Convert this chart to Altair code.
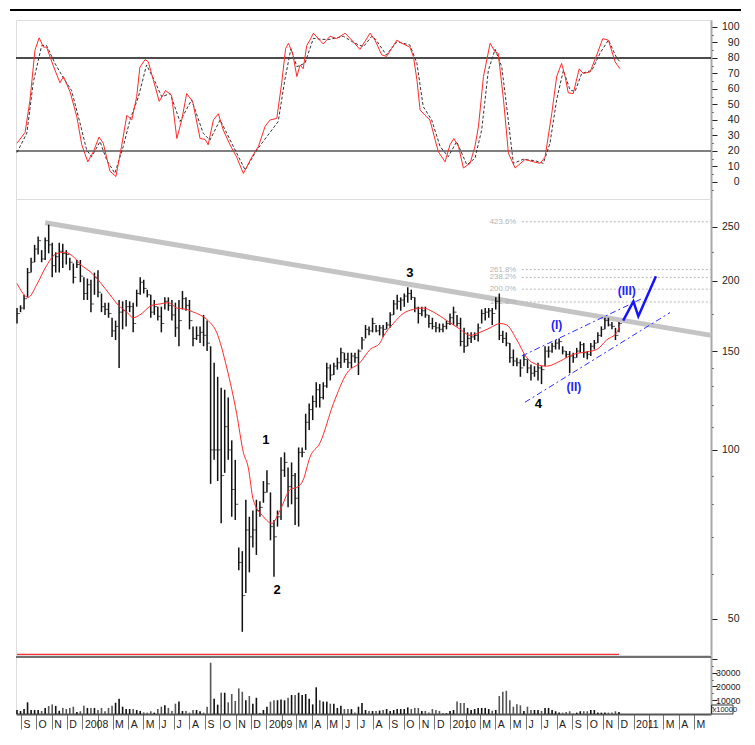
import altair as alt
import numpy as np
import pandas as pd

# ---------------- data (weekly bars, first bar dated 2007-08-24) ----------------
START = "2007-08-24"
X_START = alt.DateTime(year=2007, month=8, date=22)
X_END = alt.DateTime(year=2011, month=6, date=4)

HIGH = [179,181,189,211,220,232,240,227,239,252,
        234,225,234,233,227,220,215,218,218,203,
        202,201,207,209,190,183,183,172,170,185,
        184,185,184,183,193,203,201,193,189,185,
        180,180,187,187,185,183,185,192,187,185,
        166,166,166,174,170,153,143,135,129,128,
        124,104,96,67,66,81.5,76,78,81.5,81,
        88,92,84,75,78,97,99,93,95,91,
        101,101,116,121,125,132,131,132,143,142,
        143,146,152,149,149,149,149,151,159,167,
        166,172,167,167,167,169,176,185,189,187,
        190,195,193,187,180,180,180,174,172,169,
        168,168,170,175,180,174,172,165,162,162,
        162,168,178,179,179,179,187,190,163,162,
        155,151,146,145,148,145,142,141,143,141,
        153,153,155,157,158,153,150,150,149,152,
        156,155,150,155,157,162,166,172,172,169,
        165,169]
LOW = [168,176,178,187,207,216,223,216,218,224,
       203,207,207,211,214,209,198,211,199,185,
       185,176,189,187,176,174,172,159,157,140,
       164,166,176,162,180,189,190,187,172,174,
       170,162,178,177,170,159,153,178,177,164,
       153,157,155,153,150,87,96,88,74,91,
       96,76,75,61,47.4,55.6,60.5,67,65,76,
       80.5,84,69,59.4,73,75,89.5,79,80,73.5,
       73,97,100,108.5,113,119,119,123,129,133,
       136,139,140,143,140,140,143,136,151,158,
       160,162,162,160,159,164,165,174,178,177,
       180,183,185,176,168,173,172,165,164,162,
       162,162,164,167,167,166,153,149,153,155,
       157,156,168,170,172,167,178,157,155,153,
       143,141,141,135,141,137,133,135,133,131,
       141,146,149,151,151,148,146,137,143,146,
       149,146,145,147,151,155,159,164,166,164,
       157,162]
CLOSE = [175,179,186,207,216,228,236,219,236,232,
         213,221,226,224,223,216,203,214,204,190,
         197,182,203,191,180,178,175,163,166,176,
         177,180,180,168,190,199,194,189,176,180,
         173,168,184,181,174,165,170,186,181,170,
         158,160,162,160,155,100,100,100,90,110,
         100,85,80,63,55,72,70,72,78,79,
         84,87,73,70,76,92,95,86,90,82,
         99,99,112,118,122,128,124,130,140,136,
         141,143,149,145,143,147,146,150,157,164,
         163,168,163,165,164,167,174,182,184,185,
         188,190,187,179,175,177,174,168,166,165,
         164,166,168,172,176,168,156,153,158,159,
         160,165,175,176,177,175,184,160,158,155,
         146,144,143,140,145,140,137,138,140,139,
         150,150,153,155,156,150,148,147,146,150,
         154,149,148,153,155,160,164,170,167,166,
         160,168]
VOLUME = [2900,2200,3600,8500,2900,2900,2900,2200,4400,5800,
          7000,5800,2400,4400,3600,4400,5300,1500,2000,6000,
          4400,4400,4400,2900,4400,2000,4400,6000,8200,11100,
          5300,3600,3600,3600,2900,2200,1200,1000,2000,1000,
          3600,5300,6300,4400,2200,7500,9000,2200,2200,1000,
          2900,2900,2000,1000,5300,37300,11100,6800,15500,15500,
          8500,14500,9500,18600,16200,10000,13100,7500,11800,500,
          2900,5300,9000,10000,10000,10500,10000,11800,13800,13800,
          15500,13800,14500,11000,7000,19400,10000,9000,9000,7500,
          7500,4400,6000,3600,3600,3600,1000,5300,8000,2900,
          2200,2200,2200,2500,2900,3600,2200,2900,3600,3600,
          3600,4800,3600,4400,4400,2200,2200,1000,3600,2900,
          2200,300,500,2200,2900,9000,8000,8000,4400,2900,
          3600,4400,4400,4400,3600,2400,2900,13100,16200,16900,
          10000,5300,7000,6300,2200,5300,2900,2900,2900,2200,
          4400,4400,2900,2000,1000,1000,1500,2000,300,1000,
          2000,2000,2000,2900,2900,1000,1000,1000,1000,1000,
          2000,1500]

# moving average (red) : week position, value
MA_W = [0,3.2,5.6,8.4,11.3,13.6,16.0,18.4,20.7,23.6,26.4,28.8,31.2,33.0,34.9,38.3,40.6,43.0,45.4,48.2,
        50.1,52.0,54.3,56.7,59.6,62.4,64.3,65.7,67.1,70.0,72.4,74.7,77.6,79.9,81.3,83.2,86.1,89.9,93.7,97.4,
        100.3,103.1,104.0,106.9,109.7,112.6,115.4,118.3,122.1,125.9,128.7,131.5,134.4,137.2,139.1,142.0,
        144.8,147.6,150.5,154.3,158.0,161.8,164.7,167.5,170.4,171.3]
MA_V = [198,187,197,213,224,225,221,213,208,199,189,181,176,172,174,181,182,183,179,178,
        176,174,170,162,140,116,99,93,81.5,76,74,78,85,86,88.4,97,103,121,137,143,
        151,155,159,168,175,178,179,176,170,164,160,162,165,168,167,157,
        146,142,141,144,148,149.5,151,157,162,167]

# stochastic %K (red)
K_W = [0,2.3,3.7,5.1,6.3,7.5,8.4,10.3,12.2,13.2,15.1,17.0,18.4,20.1,21.7,23.3,24.5,26.4,28.1,29.7,
       31.2,32.6,34.0,34.9,36.4,37.3,38.7,40.4,42.2,43.9,45.4,46.8,48.2,49.9,52.0,53.4,54.3,55.8,57.2,58.6,
       60.5,62.4,64.3,66.7,68.6,70.5,71.9,73.8,75.2,76.3,77.1,78.3,79.5,80.4,81.3,82.3,83.2,84.2,85.6,87.0,
       88.9,90.8,93.2,95.5,97.4,100.3,101.7,103.6,105.0,106.4,107.9,109.3,111.6,112.6,113.6,114.5,115.9,
       117.3,118.8,119.7,121.6,123.0,124.1,125.4,126.8,128.7,130.1,131.1,132.5,134.4,135.8,136.7,138.2,
       139.6,141.5,144.3,146.7,148.6,150.0,151.9,153.3,154.7,155.7,156.6,158.0,159.7,160.9,162.8,164.7,
       166.4,168.0,169.9,171.3]
K_V = [25,32,53,85,93,87,87,75,64,68,58,42,24,13,19.5,29,25,7,3.5,23,
       43,40,55,74,79,77.5,66,52,59,56,28,40,57,52,28,27.5,24,40,44,33.5,
       24,16,5.5,16,23,36,40,41,64,86,89.5,83,68,75.5,73,88,91.5,96,92.5,89,
       94,92.5,96,90.5,85.5,96,91.5,82,81,86,91.5,89.5,87,81,66,46.5,43,
       40,27,19.5,13,24,28,23,9,12,23,36,68,89.5,84,83,53,
       18.5,9,14.5,13,12,16,44,68,76.5,68,57.5,57,73,70,71,82,
       92.5,91.5,77.5,73]
# stochastic %D (dashed)
D_W = [0,2.8,4.6,7.0,8.4,10.8,13.2,15.5,17.9,19.8,21.2,23.6,25.5,27.8,30.2,32.1,34.5,36.8,39.2,41.1,
       43.5,46.3,49.6,52.9,54.8,57.7,61.0,64.8,68.1,70.9,74.2,76.1,77.8,79.5,81.8,84.2,86.6,88.9,92.7,96.0,
       98.4,100.8,101.9,104.9,107.9,111.6,113.6,115.4,117.8,120.2,122.5,124.9,127.8,130.1,132.0,133.9,135.8,
       137.7,139.1,141.0,143.8,147.2,149.5,151.4,153.3,155.2,157.1,158.5,160.4,163.3,165.6,168.0,170.4,171.3]
D_V = [19,31.5,64,88,88,76.5,67,59,38,20.5,16.3,26,14,5.6,23,40,55,75.5,64.7,55,
       57,39,53,31.4,27,40,25,7.7,20.6,29,39,66,86,74.4,76.6,92.7,92,92,94,89.5,
       87.3,94,92,82,90.5,88.4,76.6,48.6,40,22.8,16.3,26,11,15.3,33.5,72,85.6,
       74.4,48.6,12,14.6,13.7,12,25,53,72,59.4,58.3,70,72,83,91.6,79.8,77.6]
STOCH_LEVELS = [80, 20]

# annotations
TREND_W = [8.0, 197.2]
TREND_V = [254, 160]
FIB_LEVELS = [255, 209.6, 203, 193.4, 183.5]
FIB_LABELS = ["423.6%", "261.8%", "238.2%", "200.0%", "161.8%"]
FIB_START_W = 143.4
FIB_LABEL_W = 141.8
CH_GROUP = ["up", "up", "low", "low"]
CH_W = [143.4, 177.5, 144.3, 185.5]
CH_V = [147, 186, 121.6, 175.7]
PROJ_W = [172.2, 175.1, 176.5, 181.5]
PROJ_V = [170, 184, 173, 204]
WAVE_TXT = ["1", "2", "3", "4"]
WAVE_W = [70.7, 73.9, 111.6, 148.1]
WAVE_V = [104, 56.3, 207, 120.8]
SUB_TXT = ["(I)", "(II)", "(III)"]
SUB_W = [153.3, 158.2, 173.2]
SUB_V = [167, 129.7, 192.3]

MONTH_LETTERS = ["J", "F", "M", "A", "M", "J", "J", "A", "S", "O", "N", "D"]
MONTH_TICKS = [alt.DateTime(year=d.year, month=d.month, date=1)
               for d in pd.date_range("2007-09-01", "2011-05-01", freq="MS")]
STOCH_TICKS = list(range(-5, 101, 5))
PRICE_TICKS = [50, 60, 70, 80, 90, 100, 110, 120, 130, 140, 150, 175, 200, 225, 250]
PRICE_LABELED = [50, 100, 150, 200, 250]
VOL_TICKS = [5000, 10000, 15000, 20000, 25000, 30000, 35000, 40000]


def wdate(w):
    return pd.Timestamp(START) + pd.to_timedelta(np.asarray(w, dtype=float) * 7, unit="D")


bars = pd.DataFrame({"date": wdate(range(len(HIGH))), "high": HIGH, "low": LOW,
                     "close": CLOSE, "volume": VOLUME})
bars["dir"] = np.where(bars["close"].diff().fillna(0) >= 0, "up", "down")
ma = pd.DataFrame({"date": wdate(MA_W), "v": MA_V})
kdf = pd.DataFrame({"date": wdate(K_W), "v": K_V})
ddf = pd.DataFrame({"date": wdate(D_W), "v": D_V})
lev = pd.DataFrame({"level": STOCH_LEVELS, "c": ["a", "b"]})
trend = pd.DataFrame({"date": wdate(TREND_W), "v": TREND_V})
fib = pd.DataFrame({"level": FIB_LEVELS, "label": FIB_LABELS,
                    "d0": wdate([FIB_START_W] * 5), "dl": wdate([FIB_LABEL_W] * 5)})
chan = pd.DataFrame({"g": CH_GROUP, "date": wdate(CH_W), "v": CH_V})
proj = pd.DataFrame({"date": wdate(PROJ_W), "v": PROJ_V})
waves = pd.DataFrame({"date": wdate(WAVE_W), "v": WAVE_V, "t": WAVE_TXT})
subs = pd.DataFrame({"date": wdate(SUB_W), "v": SUB_V, "t": SUB_TXT})
span = pd.DataFrame({"d0": [bars["date"].iloc[0]], "d1": [bars["date"].iloc[-1]]})

# ---------------- layout ----------------
W = 695
H_STO, H_PRC, H_VOL = 179, 456, 59
FONT = "Liberation Sans Narrow, Liberation Sans, Arial, sans-serif"

x_scale = alt.Scale(domain=[X_START, X_END])
xs = alt.X("date:T", scale=x_scale, axis=None, title=None)


def raxis(values, label_test, major_test, fmt, size=10.5, pad=22):
    return alt.Axis(orient="right", values=values, format=fmt, title=None, grid=False,
                    labelExpr=f"({label_test}) ? datum.label : ''",
                    tickSize={"condition": {"test": major_test, "value": 6}, "value": 2},
                    tickColor="#222", tickWidth=1, domainColor="#a8a8a8", domainWidth=2,
                    labelAlign="right", labelBaseline="middle", labelPadding=pad,
                    labelFont=FONT, labelFontSize=size, labelColor="#222")


sto_scale = alt.Scale(domain=[-11, 104.5], nice=False, zero=False)
sto_axis = raxis(STOCH_TICKS, "datum.value >= 0 && datum.value % 10 == 0",
                 "datum.value % 10 == 0", "d")
ysto = lambda f: alt.Y(f, scale=sto_scale, axis=sto_axis, title=None)

top_border = alt.Chart(span).mark_rule(color="#000", strokeWidth=2).encode(
    x=alt.value(-6), x2=alt.value(725), y=alt.value(-10))
levels = alt.Chart(lev).mark_rule(strokeWidth=1.6).encode(
    y=ysto("level:Q"), x=alt.value(0), x2=alt.value(W),
    color=alt.Color("c:N", scale=alt.Scale(domain=["a", "b"], range=["#111", "#555"]), legend=None))
dline = alt.Chart(ddf).mark_line(color="#333", strokeWidth=1, strokeDash=[3, 2]).encode(
    x=xs, y=ysto("v:Q"))
kline = alt.Chart(kdf).mark_line(color="#ff2a2a", strokeWidth=1).encode(x=xs, y=ysto("v:Q"))
stoch = alt.layer(top_border, levels, dline, kline).properties(width=W, height=H_STO)

price_scale = alt.Scale(type="log", domain=[43.1, 280], nice=False)
price_axis = raxis(PRICE_TICKS, f"indexof({PRICE_LABELED}, datum.value) >= 0",
                   f"indexof({PRICE_LABELED}, datum.value) >= 0", "d")
yp = lambda f: alt.Y(f, scale=price_scale, axis=price_axis, title=None)

trend_l = alt.Chart(trend).mark_line(color="#c4c4c4", strokeWidth=5).encode(x=xs, y=yp("v:Q"))
hl = alt.Chart(bars).mark_rule(color="#111", strokeWidth=1.5).encode(x=xs, y=yp("low:Q"), y2="high:Q")
cl = alt.Chart(bars).mark_tick(color="#111", orient="horizontal", size=3, thickness=1, xOffset=1.5).encode(
    x=xs, y=yp("close:Q"))
mal = alt.Chart(ma).mark_line(color="#ff2a2a", strokeWidth=1, interpolate="monotone").encode(
    x=xs, y=yp("v:Q"))
fib_r = alt.Chart(fib).mark_rule(color="#b8b8b8", strokeWidth=1, strokeDash=[2, 2]).encode(
    x=alt.X("d0:T", scale=x_scale, axis=None), x2=alt.value(W), y=yp("level:Q"))
fib_t = alt.Chart(fib).mark_text(color="#b4b4b4", fontSize=7.8, align="right", baseline="middle",
                                 font=FONT).encode(
    x=alt.X("dl:T", scale=x_scale, axis=None), y=yp("level:Q"), text="label:N")
chan_l = alt.Chart(chan).mark_line(color="#2f2fff", strokeWidth=1, strokeDash=[6, 3, 2, 3]).encode(
    x=xs, y=yp("v:Q"), detail="g:N")
proj_l = alt.Chart(proj).mark_line(color="#1414ff", strokeWidth=2.5).encode(x=xs, y=yp("v:Q"))
wave_t = alt.Chart(waves).mark_text(fontSize=13, fontWeight="bold", color="#000",
                                    font="Liberation Sans, Arial, sans-serif").encode(
    x=xs, y=yp("v:Q"), text="t:N")
sub_t = alt.Chart(subs).mark_text(fontSize=12, fontWeight="bold", color="#1f1fff", font=FONT).encode(
    x=xs, y=yp("v:Q"), text="t:N")
red_base = alt.Chart(span).mark_rule(color="#ff3030", strokeWidth=1.5).encode(
    x=alt.X("d0:T", scale=x_scale, axis=None), x2="d1:T", y=alt.value(H_PRC - 0.5))
price = alt.layer(trend_l, fib_r, fib_t, hl, cl, mal, chan_l, proj_l, wave_t, sub_t, red_base).properties(
    width=W, height=H_PRC)

vol_scale = alt.Scale(domain=[0, 42900], nice=False, zero=True)
vol_axis = raxis(VOL_TICKS, "datum.value % 10000 == 0 && datum.value < 40000",
                 "datum.value % 10000 == 0", "d", size=8.8, pad=23)
letters = "[" + ",".join(f"'{m}'" for m in MONTH_LETTERS) + "]"
x_axis = alt.Axis(values=MONTH_TICKS, title=None, grid=False,
                  labelExpr=("month(datum.value) == 0 ? timeFormat(datum.value, '%Y') : "
                             f"(month(datum.value) == 1 ? '' : {letters}[month(datum.value)])"),
                  tickSize=15, tickColor="#777", tickWidth=1, domainColor="#555", domainWidth=2,
                  labelAlign="left", labelBaseline="middle", labelPadding=-5, labelOffset=2,
                  labelFont=FONT, labelFontSize=10.5, labelColor="#222",
                  labelOverlap=False, labelFlush=False, labelBound=False)
vbars = alt.Chart(bars).mark_rule(strokeWidth=1.6).encode(
    x=alt.X("date:T", scale=x_scale, axis=x_axis),
    y=alt.Y("volume:Q", scale=vol_scale, axis=vol_axis, title=None),
    y2=alt.datum(0),
    color=alt.Color("dir:N", scale=alt.Scale(domain=["up", "down"], range=["#3d3df0", "#a6a8f6"]),
                    legend=None))
sep = alt.Chart(span).mark_rule(color="#707070", strokeWidth=2).encode(
    x=alt.value(0), x2=alt.value(W), y=alt.value(2))
unit_box = alt.Chart(span).mark_rect(fill="white", fillOpacity=0, stroke="#333", strokeWidth=1).encode(
    x=alt.value(W + 0.5), x2=alt.value(W + 22), y=alt.value(50), y2=alt.value(59))
unit_txt = alt.Chart(span).mark_text(text="x10000", fontSize=7.5, align="left", baseline="middle",
                                     font=FONT, color="#222").encode(
    x=alt.value(W + 1.5), y=alt.value(55))
volume = alt.layer(vbars, sep, unit_box, unit_txt).properties(width=W, height=H_VOL)

chart = alt.vconcat(stoch, price, volume, spacing=0, bounds="flush").properties(
    padding={"left": 0, "top": 0, "right": 2, "bottom": 0}
).configure_view(stroke=None).configure(background="white")

chart.save("out.html", embed_options={"renderer": "svg", "actions": False})
